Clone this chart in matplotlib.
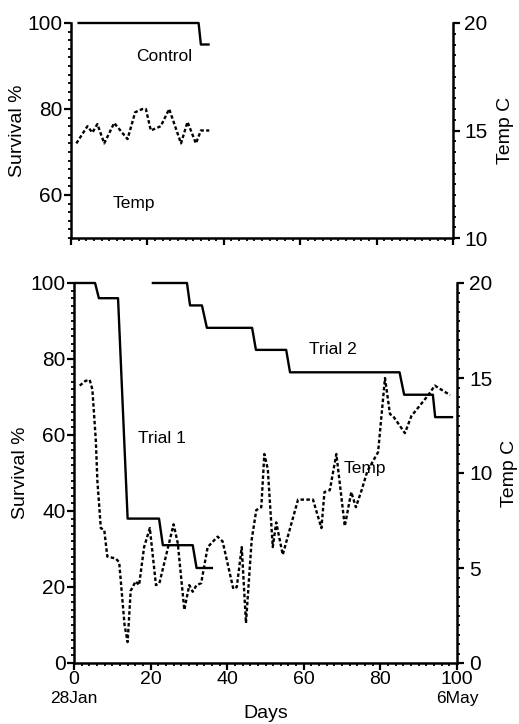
import matplotlib
matplotlib.use("Agg")
import matplotlib.pyplot as plt
from matplotlib.ticker import MultipleLocator

plt.rcParams['font.family'] = ['Liberation Sans', 'DejaVu Sans']

# Control tank (upper panel)
control_day = [2, 33.4, 34, 36]
control_surv = [100, 100, 95, 95]
control_temp_day = [1.4, 4.3, 5.6, 6.9, 8.7, 11.3, 14.8, 16.8, 18.7, 19.6, 20.9,
                    23.5, 25.7, 28.8, 30.5, 32.7, 34.0, 36.2]
control_temp = [14.4, 15.2, 14.9, 15.3, 14.4, 15.35, 14.6, 15.85, 16.0, 16.0, 15.0,
                15.2, 16.0, 14.4, 15.4, 14.4, 15.0, 15.0]

# Trials (lower panel)
trial1_day = [0.3, 5.5, 6.5, 11.5, 14.0, 22.2, 23.2, 31.0, 32.0, 36.0]
trial1_surv = [100, 100, 96, 96, 38, 38, 31, 31, 25, 25]
trial2_day = [20.6, 29.5, 30.3, 33.4, 34.7, 46.5, 47.5, 55.4, 56.4, 85.0, 86.2,
              93.7, 94.3, 98.7]
trial2_surv = [100, 100, 94.1, 94.1, 88.2, 88.2, 82.4, 82.4, 76.5, 76.5, 70.6,
               70.6, 64.7, 64.7]
trial_temp_day = [1.5, 3.0, 4.1, 4.8, 5.7, 6.1, 6.5, 7.0, 7.9, 8.7, 10.9, 11.8,
                  13.2, 14.0, 14.8, 16.1, 17.0, 18.3, 19.8, 21.4, 22.3, 26.0, 27.1,
                  28.8, 30.1, 31.0, 32.0, 33.2, 34.9, 37.5, 38.8, 41.6, 42.5, 43.8,
                  44.9, 46.4, 47.6, 48.9, 49.7, 50.6, 51.9, 52.8, 54.5, 58.5, 62.4,
                  64.6, 65.4, 66.8, 68.5, 70.7, 72.4, 73.6, 75.1, 76.6, 79.4, 81.2,
                  82.5, 83.3, 86.4, 88.1, 92.5, 94.2, 98.2]
trial_temp = [14.6, 14.85, 14.9, 14.4, 11.7, 9.6, 8.5, 7.1, 7.0, 5.6, 5.5, 5.3,
              2.0, 1.1, 3.8, 4.3, 4.1, 6.1, 7.1, 4.1, 4.2, 7.3, 6.3,
              2.8, 4.1, 3.75, 4.1, 4.2, 6.1, 6.65, 6.4, 3.9, 4.0, 6.1,
              2.1, 6.5, 8.05, 8.2, 11.0, 10.2, 6.1, 7.4, 5.7, 8.6, 8.6,
              7.1, 9.0, 9.1, 11.0, 7.2, 9.0, 8.2, 9.1, 10.1, 11.1, 15.0,
              13.1, 13.0, 12.1, 13.0, 14.1, 14.6, 14.1]

LW = 1.7
DASH = (0, (1.5, 1.0))
FS_TICK = 15
FS_LAB = 14
FS_NOTE = 12.5

fig = plt.figure(figsize=(5.19, 7.24), dpi=100)
ax1 = fig.add_axes([71 / 519, 1 - 238 / 724, (453 - 71) / 519, (238 - 23) / 724])
ax2 = fig.add_axes([74 / 519, 1 - 663 / 724, (457 - 74) / 519, (663 - 283) / 724])


def style(ax):
    ax.spines['top'].set_visible(False)
    for s in ax.spines.values():
        s.set_linewidth(1.8)
    ax.tick_params(which='major', direction='out', length=5, width=1.6,
                   labelsize=FS_TICK, pad=1)
    ax.tick_params(which='minor', direction='out', length=2.5, width=1.3)


# Upper panel
ax1.plot(control_day, control_surv, color='black', lw=LW, clip_on=False)
ax1.set_xlim(0, 100)
ax1.set_ylim(50, 100)
ax1.set_yticks([60, 80, 100])
ax1.yaxis.set_minor_locator(MultipleLocator(2))
ax1.xaxis.set_major_locator(MultipleLocator(20))
ax1.xaxis.set_minor_locator(MultipleLocator(2))
ax1.tick_params(axis='x', which='major', labelbottom=False)
style(ax1)
ax1.spines['right'].set_visible(False)
ax1.set_ylabel('Survival %', fontsize=FS_LAB, labelpad=1)
ax1.text(24.4, 92.1, 'Control', fontsize=FS_NOTE, ha='center', va='center')
ax1.text(16.5, 58.1, 'Temp', fontsize=FS_NOTE, ha='center', va='center')

ax1r = ax1.twinx()
ax1r.plot(control_temp_day, control_temp, color='black', lw=LW, linestyle=DASH,
          clip_on=False)
ax1r.set_ylim(10, 20)
ax1r.yaxis.set_major_locator(MultipleLocator(5))
ax1r.yaxis.set_minor_locator(MultipleLocator(0.5))
style(ax1r)
ax1r.tick_params(axis='y', which='major', pad=3)
for side in ['left', 'bottom']:
    ax1r.spines[side].set_visible(False)
ax1r.set_ylabel('Temp C', fontsize=FS_LAB, labelpad=7)

# Lower panel
ax2.plot(trial1_day, trial1_surv, color='black', lw=LW, clip_on=False)
ax2.plot(trial2_day, trial2_surv, color='black', lw=LW, clip_on=False)
ax2.set_xlim(0, 100)
ax2.set_ylim(0, 100)
ax2.yaxis.set_major_locator(MultipleLocator(20))
ax2.yaxis.set_minor_locator(MultipleLocator(2))
ax2.xaxis.set_major_locator(MultipleLocator(20))
ax2.xaxis.set_minor_locator(MultipleLocator(2))
style(ax2)
ax2.tick_params(axis='x', which='major', labelsize=14)
ax2.spines['right'].set_visible(False)
ax2.set_ylabel('Survival %', fontsize=FS_LAB, labelpad=1)
ax2.set_xlabel('Days', fontsize=FS_LAB, labelpad=12)
ax2.text(23, 59.2, 'Trial 1', fontsize=FS_NOTE, ha='center', va='center')
ax2.text(67.5, 82.6, 'Trial 2', fontsize=FS_NOTE, ha='center', va='center')
ax2.text(75.9, 51.3, 'Temp', fontsize=FS_NOTE, ha='center', va='center')
ax2.text(0, -0.093, '28Jan', transform=ax2.get_xaxis_transform(),
         fontsize=FS_NOTE, ha='center', va='center')
ax2.text(100, -0.093, '6May', transform=ax2.get_xaxis_transform(),
         fontsize=FS_NOTE, ha='center', va='center')

ax2r = ax2.twinx()
ax2r.plot(trial_temp_day, trial_temp, color='black', lw=LW, linestyle=DASH,
          clip_on=False)
ax2r.set_ylim(0, 20)
ax2r.yaxis.set_major_locator(MultipleLocator(5))
ax2r.yaxis.set_minor_locator(MultipleLocator(0.5))
style(ax2r)
ax2r.tick_params(axis='y', which='major', pad=4)
for side in ['left', 'bottom']:
    ax2r.spines[side].set_visible(False)
ax2r.set_ylabel('Temp C', fontsize=FS_LAB, labelpad=6)

fig.savefig('out.png', dpi=100)
